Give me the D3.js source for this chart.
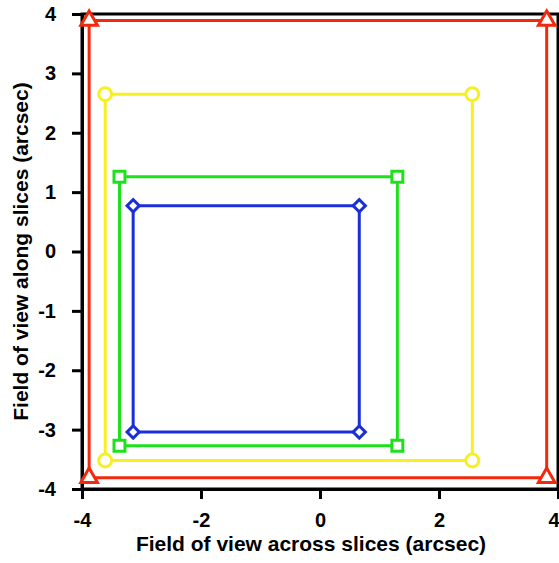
<!DOCTYPE html>
<html>
<head>
<meta charset="utf-8">
<script src="https://cdn.jsdelivr.net/npm/d3@7"></script>
<style>
  html, body { margin: 0; padding: 0; background: #fff; }
  svg text { font-family: "Liberation Sans", Arial, sans-serif; font-weight: bold; fill: #000; }
</style>
</head>
<body>
<svg id="chart" width="559" height="563"></svg>
<script>
// Field-of-view footprints (arcsec): corner x-extents and y-extents per configuration
const seriesNames = ["red", "yellow", "green", "blue"];
const xExtents = [[-3.88, 3.81], [-3.61, 2.56], [-3.37, 1.30], [-3.14, 0.66]];
const yExtents = [[-3.81, 3.89], [-3.52, 2.65], [-3.27, 1.26], [-3.04, 0.77]];
const colors = ["#f2290d", "#f7ef1f", "#1fe01c", "#1a2fd9"];
const markers = ["triangle", "circle", "square", "diamond"];
const xTicks = [-4, -2, 0, 2, 4];
const yTicks = [-4, -3, -2, -1, 0, 1, 2, 3, 4];
const xTitle = "Field of view across slices (arcsec)";
const yTitle = "Field of view along slices (arcsec)";

const svg = d3.select("#chart");
const x = d3.scaleLinear().domain([-4, 4]).range([82, 558]);
const y = d3.scaleLinear().domain([-4, 4]).range([489, 14]);
const fmt = d => String(d);

// frame
svg.append("rect")
  .attr("x", x(-4)).attr("y", y(4))
  .attr("width", x(4) - x(-4)).attr("height", y(-4) - y(4))
  .attr("fill", "none").attr("stroke", "#000").attr("stroke-width", 3);

// axes
const xAxis = svg.append("g").attr("transform", `translate(0,${y(-4)})`)
  .call(d3.axisBottom(x).tickValues(xTicks).tickSize(10).tickFormat(fmt));
const yAxis = svg.append("g").attr("transform", `translate(${x(-4)},0)`)
  .call(d3.axisLeft(y).tickValues(yTicks).tickSize(10).tickPadding(16).tickFormat(fmt));
[xAxis, yAxis].forEach(g => {
  g.select(".domain").attr("stroke", "#000").attr("stroke-width", 3);
  g.selectAll(".tick line").attr("stroke", "#000").attr("stroke-width", 3);
  g.selectAll(".tick text").style("font-size", "20px").style("font-weight", "bold")
    .style("font-family", "'Liberation Sans', Arial, sans-serif").attr("fill", "#000");
});
xAxis.selectAll(".tick text").attr("y", 38).attr("dy", null);
// the rightmost label sits flush against the edge
xAxis.selectAll(".tick text").filter(d => d === 4).attr("text-anchor", "end").attr("x", 1);

// axis titles
svg.append("text").attr("x", 311).attr("y", 551)
  .attr("text-anchor", "middle").style("font-size", "21px").text(xTitle);
svg.append("text").attr("transform", `translate(28,${(y(4) + y(-4)) / 2}) rotate(-90)`)
  .attr("text-anchor", "middle").style("font-size", "21px").text(yTitle);

const symbolTypes = {
  triangle: d3.symbolTriangle,
  circle: d3.symbolCircle,
  square: d3.symbolSquare,
  diamond: d3.symbolSquare
};
const symbolSizes = { triangle: 120, circle: 130, square: 120, diamond: 75 };

const line = d3.line().x(d => x(d[0])).y(d => y(d[1]));

seriesNames.forEach((name, i) => {
  const [x0, x1] = xExtents[i];
  const [y0, y1] = yExtents[i];
  const corners = [[x0, y1], [x1, y1], [x1, y0], [x0, y0]];
  const g = svg.append("g").attr("class", "series-" + name);
  g.append("path")
    .datum(corners.concat([corners[0]]))
    .attr("d", line)
    .attr("fill", "none")
    .attr("stroke", colors[i])
    .attr("stroke-width", 3)
    .attr("stroke-linejoin", "miter");
  const shape = markers[i];
  g.selectAll("path.marker")
    .data(corners)
    .join("path")
    .attr("class", "marker")
    .attr("transform", d => `translate(${x(d[0])},${y(d[1])})${shape === "diamond" ? " rotate(45)" : ""}`)
    .attr("d", d3.symbol().type(symbolTypes[shape]).size(symbolSizes[shape]))
    .attr("fill", "#fff")
    .attr("stroke", colors[i])
    .attr("stroke-width", 3);
});
</script>
</body>
</html>
